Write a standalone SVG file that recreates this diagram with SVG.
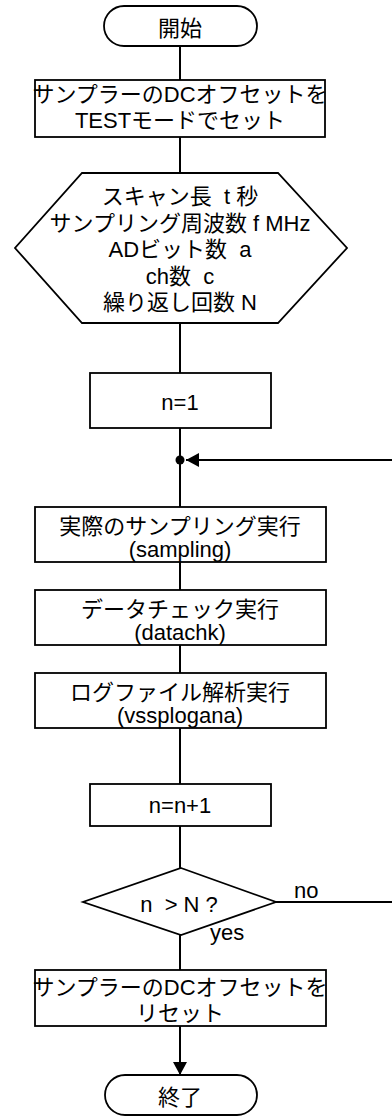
<svg xmlns="http://www.w3.org/2000/svg" width="392" height="1117" viewBox="0 0 392 1117">
<style>
.s{fill:#fff;stroke:#000;stroke-width:1.8}
.t{font-family:"Liberation Sans","Noto Sans CJK JP",sans-serif;font-size:22px;fill:#000;text-anchor:middle;white-space:pre}
.l{font-family:"Liberation Sans","Noto Sans CJK JP",sans-serif;font-size:22px;fill:#000;text-anchor:start}
.c{fill:none;stroke:#000;stroke-width:2}
</style>
<defs>
<marker id="ah" markerWidth="14" markerHeight="14" refX="13" refY="7" orient="auto" markerUnits="userSpaceOnUse">
<path d="M0,0 L13,7 L0,14 Z" fill="#000"/>
</marker>
</defs>
<g id="connectors">
<path class="c" d="M180,46 V80 M180,137 V173 M180,323 V373 M180,428 V507 M180,562 V590 M180,645 V673 M180,728 V784 M180,826 V868 M180,935 V970"/>
<path class="c" d="M180,1026 V1075" marker-end="url(#ah)"/>
<path class="c" d="M276,902 H400 V460 H186" marker-end="url(#ah)"/>
<circle cx="180" cy="460" r="4.5" fill="#000"/>
</g>
<g id="start">
<rect class="s" x="104" y="6" width="153" height="40" rx="20"/>
<text class="t" x="180" y="36">開始</text>
</g>
<g id="dc-test">
<rect class="s" x="35" y="80" width="290" height="57"/>
<text class="t" x="180" y="102">サンプラーのDCオフセットを</text>
<text class="t" x="180" y="128">TESTモードでセット</text>
</g>
<g id="params">
<polygon class="s" points="82,173 278,173 347,248 278,323 82,323 15,248"/>
<text class="t" x="180" y="204">スキャン長  t 秒</text>
<text class="t" x="180" y="231">サンプリング周波数 f MHz</text>
<text class="t" x="180" y="257">ADビット数  a</text>
<text class="t" x="180" y="284">ch数  c</text>
<text class="t" x="180" y="310">繰り返し回数 N</text>
</g>
<g id="init">
<rect class="s" x="90" y="373" width="181" height="55"/>
<text class="t" x="180" y="410">n=1</text>
</g>
<g id="sampling">
<rect class="s" x="35" y="507" width="291" height="55"/>
<text class="t" x="180" y="534">実際のサンプリング実行</text>
<text class="t" x="180" y="557">(sampling)</text>
</g>
<g id="datachk">
<rect class="s" x="35" y="590" width="291" height="55"/>
<text class="t" x="180" y="617">データチェック実行</text>
<text class="t" x="180" y="640">(datachk)</text>
</g>
<g id="logana">
<rect class="s" x="35" y="673" width="291" height="55"/>
<text class="t" x="180" y="700">ログファイル解析実行</text>
<text class="t" x="180" y="723">(vssplogana)</text>
</g>
<g id="incr">
<rect class="s" x="90" y="784" width="181" height="42"/>
<text class="t" x="180" y="813">n=n+1</text>
</g>
<g id="decision">
<polygon class="s" points="181,868 276,902 181,935 83,902"/>
<text class="t" x="179" y="912">n  &gt; N ?</text>
<text class="l" x="294" y="898">no</text>
<text class="l" x="210" y="940">yes</text>
</g>
<g id="dc-reset">
<rect class="s" x="35" y="970" width="291" height="56"/>
<text class="t" x="180" y="995">サンプラーのDCオフセットを</text>
<text class="t" x="180" y="1021">リセット</text>
</g>
<g id="end">
<rect class="s" x="105" y="1075" width="152" height="40" rx="20"/>
<text class="t" x="180" y="1105">終了</text>
</g>
</svg>
